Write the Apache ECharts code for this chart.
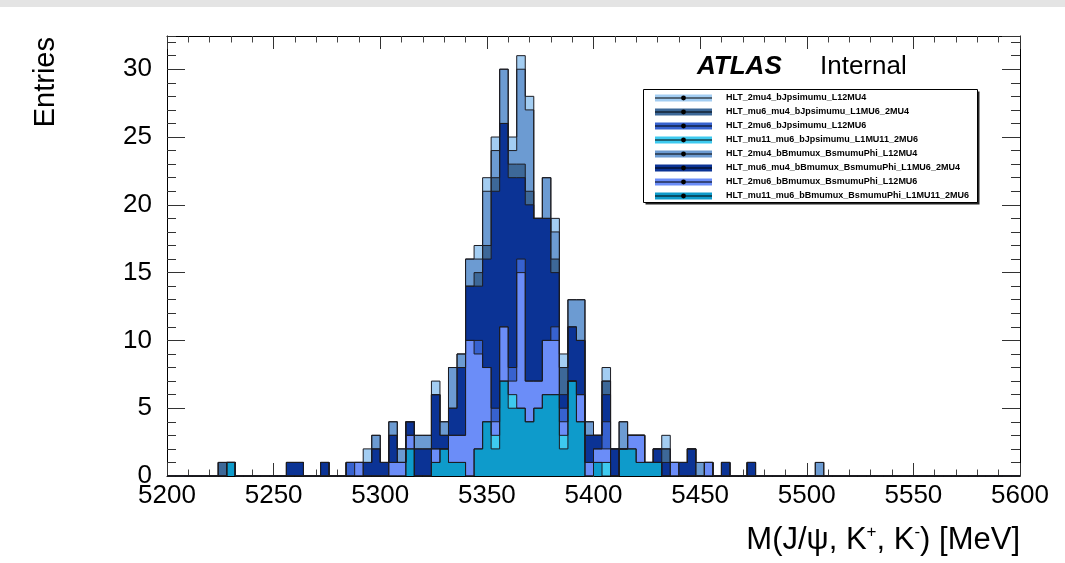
<!DOCTYPE html>
<html>
<head>
<meta charset="utf-8">
<script src="https://cdn.jsdelivr.net/npm/echarts@6/dist/echarts.min.js"></script>
<style>
html,body{margin:0;padding:0;background:#fff;}
#chart{width:1065px;height:563px;}
</style>
</head>
<body>
<div id="chart"></div>
<script>
// binning: 100 bins of 4 MeV from 5200 to 5600
var binStart = 5200, binWidth = 4, nBins = 100;

var names = [
	'HLT_2mu4_bJpsimumu_L12MU4',
	'HLT_mu6_mu4_bJpsimumu_L1MU6_2MU4',
	'HLT_2mu6_bJpsimumu_L12MU6',
	'HLT_mu11_mu6_bJpsimumu_L1MU11_2MU6',
	'HLT_2mu4_bBmumux_BsmumuPhi_L12MU4',
	'HLT_mu6_mu4_bBmumux_BsmumuPhi_L1MU6_2MU4',
	'HLT_2mu6_bBmumux_BsmumuPhi_L12MU6',
	'HLT_mu11_mu6_bBmumux_BsmumuPhi_L1MU11_2MU6'
];
var colors = ['#a3cdf2','#3d6898','#3762cf','#3ecaef','#6c9bd2','#0b3395','#6b8df8','#0e9bcb'];

// entries per bin
var h_2mu4_bJpsi = [
	0,0,0,0,0,0,1,1,0,0, 0,0,0,0,1,1,0,0,1,0, 0,1,1,2,3,1,4,2,4,3,
	3,7,4,8,9,16,17,22,25,30, 25,31,28,19,22,19,9,13,13,4, 3,8,2,4,3,3,1,2,3,1,
	1,2,1,1,0,1,0,0,1,0, 0,0,0,0,0,0,1,0,0,0, 0,0,0,0,0,0,0,0,0,0, 0,0,0,0,0,0,0,0,0,0
];
var h_mu6mu4_bJpsi = [
	0,0,0,0,0,0,1,1,0,0, 0,0,0,0,1,1,0,0,1,0, 0,1,1,1,2,1,3,1,4,2,
	2,6,3,5,8,14,15,17,22,26, 23,23,21,19,19,16,8,11,10,3, 3,7,2,2,3,3,1,2,2,1,
	1,2,0,1,0,1,0,0,1,0, 0,0,0,0,0,0,0,0,0,0, 0,0,0,0,0,0,0,0,0,0, 0,0,0,0,0,0,0,0,0,0
];
var h_2mu6_bJpsi = [
	0,0,0,0,0,0,0,1,0,0, 0,0,0,0,0,0,0,0,0,0, 0,1,1,0,0,0,1,1,3,0,
	0,2,2,3,3,10,10,8,5,11, 8,16,7,7,10,11,5,7,6,1, 2,4,0,2,3,3,1,1,0,1,
	0,0,0,1,0,0,0,0,0,0, 0,0,0,0,0,0,0,0,0,0, 0,0,0,0,0,0,0,0,0,0, 0,0,0,0,0,0,0,0,0,0
];
var h_mu11mu6_bJpsi = [
	0,0,0,0,0,0,0,1,0,0, 0,0,0,0,0,0,0,0,0,0, 0,0,0,0,0,0,0,0,2,0,
	0,1,2,1,1,0,2,4,3,7, 6,5,4,5,6,6,3,7,4,0, 1,1,0,2,2,1,1,1,0,0,
	0,0,0,0,0,0,0,0,0,0, 0,0,0,0,0,0,0,0,0,0, 0,0,0,0,0,0,0,0,0,0, 0,0,0,0,0,0,0,0,0,0
];
var h_2mu4_Bsphi = [
	0,0,0,0,0,0,1,1,0,0, 0,0,0,0,1,1,0,0,1,0, 0,1,1,1,3,1,4,2,4,3,
	3,6,4,8,9,16,16,21,24,30, 24,30,27,19,22,18,8,13,13,4, 3,7,2,4,3,3,1,2,2,1,
	1,2,1,1,0,1,0,0,1,0, 0,0,0,0,0,0,1,0,0,0, 0,0,0,0,0,0,0,0,0,0, 0,0,0,0,0,0,0,0,0,0
];
var h_mu6mu4_Bsphi = [
	0,0,0,0,0,0,0,1,0,0, 0,0,0,0,1,1,0,0,1,0, 0,1,1,1,2,1,3,1,4,2,
	2,6,3,5,8,14,14,16,21,26, 22,22,20,19,19,15,6,11,10,3, 3,6,2,2,3,3,1,2,1,1,
	1,2,0,1,0,1,0,0,1,0, 0,0,0,0,0,0,0,0,0,0, 0,0,0,0,0,0,0,0,0,0, 0,0,0,0,0,0,0,0,0,0
];
var h_2mu6_Bsphi = [
	0,0,0,0,0,0,0,1,0,0, 0,0,0,0,0,0,0,0,0,0, 0,0,1,0,0,0,1,1,3,0,
	0,2,2,3,3,10,9,8,4,11, 7,15,7,7,10,10,4,7,6,1, 2,2,0,2,3,3,1,1,0,1,
	0,0,0,1,0,0,0,0,0,0, 0,0,0,0,0,0,0,0,0,0, 0,0,0,0,0,0,0,0,0,0, 0,0,0,0,0,0,0,0,0,0
];
var h_mu11mu6_Bsphi = [
	0,0,0,0,0,0,0,1,0,0, 0,0,0,0,0,0,0,0,0,0, 0,0,0,0,0,0,0,0,2,0,
	0,1,2,1,1,0,2,4,2,7, 5,5,4,5,6,6,2,7,4,0, 1,0,0,2,2,1,1,1,0,0,
	0,0,0,0,0,0,0,0,0,0, 0,0,0,0,0,0,0,0,0,0, 0,0,0,0,0,0,0,0,0,0, 0,0,0,0,0,0,0,0,0,0
];
var hists = [h_2mu4_bJpsi, h_mu6mu4_bJpsi, h_2mu6_bJpsi, h_mu11mu6_bJpsi,
	h_2mu4_Bsphi, h_mu6mu4_Bsphi, h_2mu6_Bsphi, h_mu11mu6_Bsphi];

// order in which the histograms were drawn (last one on top)
var drawOrder = [0, 4, 1, 5, 2, 6, 3, 7];

var xTicks = [5200, 5250, 5300, 5350, 5400, 5450, 5500, 5550, 5600];
var yTicks = [0, 5, 10, 15, 20, 25, 30];

// histogram as step outline: one point per bin low edge + closing edge
function histPoints(vals){
	var pts = [];
	for (var i = 0; i < nBins; i++) pts.push([binStart + i*binWidth, vals[i]]);
	pts.push([binStart + nBins*binWidth, vals[nBins-1]]);
	return pts;
}

var FONT = 'Liberation Sans, Arial, Helvetica, sans-serif';
var yMax = 32.45;

var series = drawOrder.map(function(k){
	return {
		type: 'line', name: names[k], data: histPoints(hists[k]),
		step: 'end', symbol: 'none', showSymbol: false, silent: true,
		animation: false, xAxisIndex: 0, yAxisIndex: 0,
		lineStyle: {color: '#1c1c22', width: 1},
		areaStyle: {color: colors[k], opacity: 1},
		itemStyle: {color: colors[k]}
	};
});

function xAx(pos, labels){
	return {
		type: 'value', position: pos, min: xTicks[0], max: xTicks[xTicks.length-1], interval: 50,
		axisLine: {show: true, onZero: false, lineStyle: {color: '#000', width: 1}},
		axisTick: {show: true, inside: true, length: 13, lineStyle: {color: '#333'}},
		minorTick: {show: true, splitNumber: 5, length: 6.5, lineStyle: {color: '#444'}},
		axisLabel: {show: labels, fontSize: 26, margin: 7, color: '#000', fontFamily: FONT,
			formatter: function(v){ return String(v); }},
		splitLine: {show: false}
	};
}
function yAx(pos, step, len, labels){
	return {
		type: 'value', position: pos, min: 0, max: yMax, interval: step,
		axisLine: {show: step === 5, onZero: false, lineStyle: {color: '#000', width: 1}},
		axisTick: {show: true, inside: true, length: len, lineStyle: {color: '#333'}},
		axisLabel: {show: labels, fontSize: 26, margin: 15, color: '#000', fontFamily: FONT,
			showMaxLabel: false,
			formatter: function(v){ return yTicks.indexOf(v) >= 0 ? String(v) : ''; }},
		splitLine: {show: false}
	};
}

// legend geometry
var legLeft = 655, legTop = 93, legIconW = 57, legPitch = 14;
var graphics = [
	{type: 'rect', left: 0, top: 0, shape: {width: 1065, height: 7}, style: {fill: '#e4e4e4'}, silent: true},
	{type: 'rect', shape: {x: 645.5, y: 91.5, width: 334, height: 113}, style: {fill: '#222'}, z: 3, silent: true},
	{type: 'rect', shape: {x: 643.5, y: 89.5, width: 334, height: 113}, style: {fill: '#fff', stroke: '#000', lineWidth: 1}, z: 3, silent: true},
	{type: 'text', x: 697, y: 67, z: 10, style: {text: 'ATLAS', font: 'italic bold 26px ' + FONT, fill: '#000', verticalAlign: 'middle'}},
	{type: 'text', x: 820, y: 67, z: 10, style: {text: 'Internal', font: '26px ' + FONT, fill: '#000', verticalAlign: 'middle'}},
	{type: 'text', x: 46, y: 37, rotation: Math.PI/2, z: 10,
		style: {text: 'Entries', font: '29px ' + FONT, fill: '#000', align: 'right', verticalAlign: 'middle'}},
	{type: 'text', x: 1020, y: 540, z: 10,
		style: {text: 'M(J/ψ, K{sup|+}, K{sup|-}) [MeV]', font: '31px ' + FONT, fill: '#000',
			align: 'right', verticalAlign: 'middle',
			rich: {sup: {fontSize: 17, fontFamily: FONT, verticalAlign: 'top', lineHeight: 33}}}}
];
for (var r = 0; r < names.length; r++){
	var cy = legTop + 5 + r*legPitch;
	graphics.push({type: 'line', z: 10, silent: true,
		shape: {x1: legLeft, y1: cy, x2: legLeft + legIconW, y2: cy}, style: {stroke: '#000', lineWidth: 1.2}});
	graphics.push({type: 'circle', z: 10, silent: true,
		shape: {cx: legLeft + legIconW/2, cy: cy, r: 2.4}, style: {fill: '#000'}});
}

var myChart = echarts.init(document.getElementById('chart'), null, {renderer: 'canvas'});
var option = {
	backgroundColor: '#fff',
	animation: false,
	grid: {left: 167, right: 45, top: 36, bottom: 87, containLabel: false, outerBoundsMode: 'none'},
	xAxis: [xAx('bottom', true), xAx('top', false)],
	yAxis: [yAx('left', 5, 18, true), yAx('left', 1, 9, false), yAx('right', 5, 18, false), yAx('right', 1, 9, false)],
	legend: {
		data: names, orient: 'vertical', left: legLeft, top: legTop, padding: 0,
		icon: 'rect', itemWidth: legIconW, itemHeight: 7, itemGap: 4,
		selectedMode: false, z: 6,
		itemStyle: {borderWidth: 0},
		textStyle: {fontSize: 9, fontWeight: 'bold', fontFamily: FONT, color: '#000', lineHeight: 10, padding: [0, 0, 0, 9]}
	},
	graphic: graphics,
	series: series
};
myChart.setOption(option);
</script>
</body>
</html>
